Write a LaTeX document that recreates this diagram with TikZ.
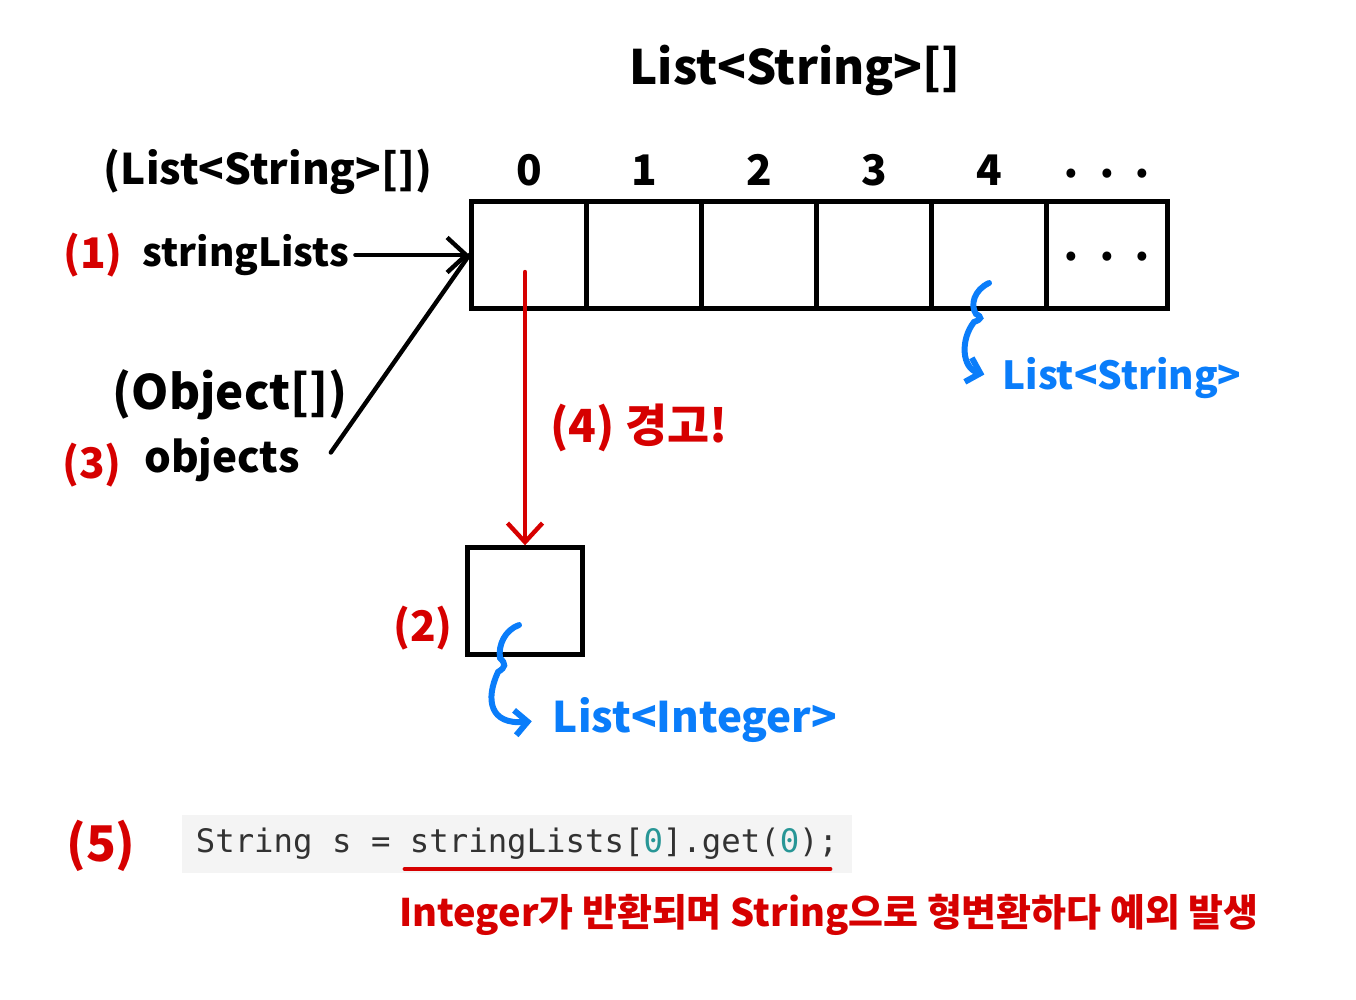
\documentclass[tikz,border=0pt]{standalone}
\usepackage{fontspec}
\usepackage{tikz}
\usetikzlibrary{arrows.meta}
\setmainfont{Noto Sans CJK KR}
\setmonofont{DejaVu Sans Mono}
\definecolor{warnred}{RGB}{214,0,0}
\definecolor{typeblue}{RGB}{10,125,250}
\definecolor{codegray}{RGB}{244,244,244}
\definecolor{codeteal}{RGB}{40,150,150}
\definecolor{codetext}{RGB}{50,50,50}
\tikzset{
	hand/.style={font=\bfseries\fontsize{#1}{#1}\selectfont},
	num/.style={text=warnred,hand=#1},
}

\begin{document}
\begin{tikzpicture}[x=0.02cm,y=-0.02cm]
	\useasboundingbox (0,0) rectangle (1356,1000);

		\begin{scope}[every node/.style={draw,line width=2.5pt,minimum width=2.3cm,minimum height=2.14cm,inner sep=0pt}]
			\foreach \i in {0,...,4}
				\node (c\i) at (529+115*\i,255) {};
			\node[minimum width=2.42cm] (c5) at (1107,255) {};
			\node (elem) at (525,601) {};
		\end{scope}

		\begin{scope}[every node/.style={hand=24}]
			\foreach \i in {0,...,4}
				\node[above=0.15cm] (n\i) at (c\i.north) {\i};
			\node[above=0.07cm] (n5) at (c5.north) {· · ·};
			\node (d5) at ([yshift=-0.14cm]c5.center) {· · ·};
		\end{scope}

		\node[hand=27] (title) at (795,70) {List<String>[]};
		\node[hand=24] (t1) at (268,172) {(List<String>[])};
		\node[hand=22] (strl) at (246,255) {stringLists};
		\node[hand=27] (t3) at (230,395) {(Object[])};
		\node[hand=24] (objs) at (222,460) {objects};

		\node[num=24] (l1) at (93,255) {(1)};
		\node[num=24] (l3) at (92,465) {(3)};
		\node[num=24] (l2) at (423,628) {(2)};
		\node[num=28] (l5) at (101,846) {(5)};
		\node[num=26] (warn) at (639,428) {(4) 경고!};

		\node[text=typeblue,hand=22] (lstr) at (1122,378) {List<String>};
		\node[text=typeblue,hand=24] (lint) at (695,720) {List<Integer>};

		\node[fill=codegray,minimum width=13.42cm,minimum height=1.16cm,inner sep=0pt,text=codetext,font=\ttfamily\fontsize{18.4}{18.4}\selectfont] (code) at (517,844) {String s = stringLists[{\color{codeteal}0}].get({\color{codeteal}0});};
		\node[num=21.6] (cause) at (829,915) {Integer가 반환되며 String으로 형변환하다 예외 발생};

		\coordinate (w0) at (525,272);
		\coordinate (hk4) at (989,283);
		\coordinate (hk2) at (519,625);

	\begin{scope}[>={Straight Barb[length=0.38cm,width=0.7cm]},
              every edge/.style={draw=black,line width=2.5pt,line cap=round}]

	\path (strl.east) edge[->] (c0.west);
	\path ([xshift=0.5cm,yshift=0.15cm]objs.east) edge (c0.west);
	\path (w0) edge[->,draw=warnred] (elem.north);

	\end{scope}

	\draw[typeblue,line width=3.4pt,line cap=round,-{Straight Barb[length=0.25cm,width=0.5cm]},shorten >=0.25cm]
		(hk4) .. controls (974,290) and (970,305) .. (976,314) .. controls (982,317) and (982,319) .. (974,322)
		.. controls (960,340) and (962,368) .. (lstr.west);
	\draw[typeblue,line width=3.4pt,line cap=round,-{Straight Barb[length=0.25cm,width=0.5cm]},shorten >=0.3cm]
		(hk2) .. controls (505,630) and (498,645) .. (500,658) .. controls (506,664) and (506,667) .. (498,672)
		.. controls (485,700) and (490,725) .. (lint.west);
	\draw[warnred,line width=2.8pt,line cap=round] (405,869) -- (830,869);
\end{tikzpicture}
\end{document}
